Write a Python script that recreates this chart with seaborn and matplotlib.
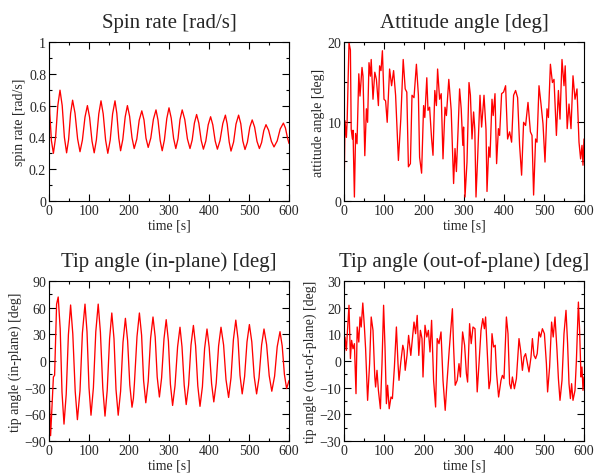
import numpy as np
import pandas as pd
import matplotlib
matplotlib.use("Agg")
import matplotlib.pyplot as plt
from matplotlib.ticker import MultipleLocator
import seaborn as sns

# ---------------- data ----------------
# spin rate [rad/s]
spin_t = [0, 2, 6, 11, 16.5, 22, 27.5, 33, 38.5, 44, 49, 54, 59, 65, 71.5,
          77.5, 83.5, 90, 96, 101.5, 107.5, 113, 118.5, 124.5, 130, 135.5,
          141.5, 147, 153, 159, 165, 169.5, 174.5, 179, 184.5, 190.5, 196,
          201.5, 207.5, 213, 219.5, 225.5, 232, 237.5, 242.5, 248, 254.5, 261,
          267.5, 272.5, 278, 283, 288.5, 294.5, 300, 305.5, 311.5, 317, 322.5,
          327.5, 333, 339.5, 346, 352.5, 358, 363.5, 369, 374.5, 380.5, 386,
          392, 398, 404, 409.5, 415.5, 421, 427.5, 434.5, 441, 445.5, 450.5,
          455, 461.5, 467.5, 474, 479.5, 484.5, 490, 496, 502, 508, 514, 520,
          526, 531.5, 537, 542.5, 549, 556, 562.5, 570.5, 578, 586, 591, 596,
          600]
spin_v = [0.80, 0.55, 0.38, 0.30, 0.40, 0.60, 0.697, 0.60, 0.40, 0.303,
          0.386, 0.551, 0.634, 0.553, 0.391, 0.31, 0.383, 0.528, 0.60, 0.526,
          0.377, 0.303, 0.385, 0.548, 0.63, 0.548, 0.383, 0.30, 0.383, 0.548,
          0.63, 0.552, 0.395, 0.316, 0.387, 0.529, 0.60, 0.533, 0.398, 0.33,
          0.389, 0.508, 0.567, 0.51, 0.395, 0.337, 0.396, 0.514, 0.573, 0.509,
          0.38, 0.316, 0.384, 0.519, 0.586, 0.522, 0.394, 0.33, 0.391, 0.512,
          0.573, 0.512, 0.391, 0.33, 0.384, 0.49, 0.544, 0.49, 0.381, 0.326,
          0.377, 0.479, 0.53, 0.479, 0.377, 0.326, 0.38, 0.487, 0.54, 0.484,
          0.371, 0.314, 0.371, 0.484, 0.54, 0.486, 0.378, 0.324, 0.37, 0.464,
          0.51, 0.465, 0.375, 0.33, 0.368, 0.443, 0.48, 0.445, 0.375, 0.34,
          0.378, 0.453, 0.49, 0.46, 0.40, 0.362]

# attitude angle [deg]
att_t = [0, 2.5, 6, 8, 12.5, 16, 18, 21, 22.5, 26, 29, 32.5, 37, 40, 45, 47.5,
         52, 56, 59, 62.5, 66, 68, 72.5, 77, 81, 86, 89, 92.5, 96, 100, 104,
         108, 114, 119, 124, 129, 136, 142, 148, 153, 157, 161, 166, 170, 175,
         181, 186, 189, 194, 199, 202, 207, 210, 214, 219, 222.5, 227, 231,
         234, 239, 243, 247.5, 252.5, 256, 262, 268, 274, 277.5, 281, 285,
         289, 293, 297, 299, 302.5, 307.5, 312.5, 316, 320, 324, 327, 330,
         334, 340, 344, 350, 355, 357.5, 362, 365, 370, 373, 377.5, 381.5,
         386, 389, 394, 399, 404, 409, 414, 419, 424, 429, 434, 439, 444,
         449, 454, 460, 466, 470, 474, 479, 482.5, 487.5, 492.5, 497.5, 502.5,
         507.5, 511, 516, 521, 525, 531, 536, 540, 545, 550, 553, 558, 562.5,
         567.5, 572.5, 577.5, 582.5, 587.5, 591.5, 595, 597.5, 600]
att_v = [0, 10.1, 8, 10.3, 19.9, 19, 9, 7.8, 8.9, 0.5, 8.5, 7.2, 16, 13.2, 16.8,
         15.7, 5.7, 11.6, 9.9, 17.4, 15.7, 17.8, 12.8, 16.2, 15.3, 12, 17,
         16.4, 18.9, 12.8, 12.6, 9.9, 16.6, 14.5, 16.4, 13.3, 5.1, 10.3, 17.8,
         14.1, 13.7, 4.3, 4.7, 13.3, 13, 17.2, 13.3, 5.5, 3.5, 12, 10.5, 15.5,
         11.4, 11.8, 7.8, 5.75, 13.9, 12, 16.6, 12.8, 13.5, 5.3, 11.8, 10.75,
         15.3, 11.4, 2.2, 6.6, 3.7, 8.7, 14.1, 11.6, 7, 9.3, 0.5, 4.9, 14.9,
         13.3, 7.8, 11.2, 9, 0.5, 5.3, 13.3, 9.3, 13.3, 9, 1.2, 6.8, 5.5, 12.8,
         10.75, 13.5, 4.7, 9.1, 8.25, 13.5, 13.7, 14.5, 7.8, 8.7, 7.4, 13.3,
         13.9, 13, 7, 3.25, 9.9, 9.5, 12.4, 8.7, 8.25, 0.75, 7.8, 7.4, 14.5,
         12.2, 9.7, 4.9, 11.6, 10.5, 17.2, 14.9, 15.3, 8.25, 13.9, 10.3, 17.8,
         14.5, 17, 9.1, 12.2, 9.1, 15.75, 12.8, 14.1, 7.4, 5.3, 7, 4.5, 7.8]

# tip angle, in-plane [deg]
inp_t = [0, 4, 11, 14, 19, 23, 28, 32.5, 37.5, 43, 48.5, 54, 59.5, 65.5, 71,
         77.5, 83.5, 90, 95, 100, 105, 111, 117, 123, 128.5, 134.5, 140,
         145.5, 151.5, 157, 162.5, 167.5, 173, 179, 185, 191, 196.5, 202,
         207.5, 211, 213.5, 220, 226, 231.5, 236.5, 242, 248, 254, 260, 265.5,
         270.5, 276, 281.5, 287.5, 293, 298.5, 303.5, 309, 315, 321.5, 327.5,
         332.5, 338, 343, 349, 355, 361, 366.5, 372, 377.5, 383.5, 389, 395,
         400.5, 406.5, 412, 418, 424, 430, 436.5, 442.5, 449, 455, 461, 467,
         472.5, 477.5, 483, 489, 495, 501, 507, 513, 519, 525, 531.5, 537.5,
         544, 550.5, 557, 564, 570.5, 577.5, 583, 588.5, 594, 600]
inp_v = [-25, -84, -18, -16, 64, 72, 36, -35, -71, -37.5, 29.5, 63, 30.5, -34,
         -66, -33.5, 31.5, 64, 33, -30, -61, -30, 33, 64, 32.5, -30.5, -62,
         -33, 25, 54, 25, -32, -61, -34, 21, 48, 23, -27, -52, -42, -25.5,
         27.5, 54, 29, -22, -47, -23, 25.5, 49.5, 27, -18, -40.5, -19, 25,
         46.5, 22.5, -26, -50, -28, 16, 38, 16, -27, -49, -27, 18, 40, 17,
         -28, -51, -29, 14, 36, 15.5, -25.5, -46, -25, 17, 38, 18, -21, -41,
         -19, 24, 46, 25, -16, -37, -17.5, 21.5, 41, 21.5, -17.5, -37, -19,
         18, 36, 18.5, -16.5, -34, -17, 16, 33, 17, -15, -31, -22]

# tip angle, out-of-plane [deg]
oop_t = [0, 2.5, 6, 8, 12.5, 16, 19, 22.5, 26, 30, 33, 37, 40, 43, 47, 51, 54,
         59, 64, 68, 72.5, 77, 79, 82.5, 86, 91, 95, 99, 102.5, 106, 109, 113,
         117.5, 121, 126, 131, 135, 137.5, 142, 147, 150, 153, 157.5, 161.5,
         167, 171, 175, 179, 183, 187, 191, 195, 197.5, 202.5, 207, 211, 215,
         219, 224, 229, 233, 237.5, 242.5, 247.5, 253, 257.5, 263, 271, 274,
         278, 283, 287.5, 291, 296.5, 301.5, 306, 309, 314, 318, 322.5, 327.5,
         333, 337.5, 342.5, 347, 351, 354, 358, 362.5, 366, 370, 374, 378,
         381.5, 386.5, 392.5, 396, 400, 406, 410, 414, 417.5, 421, 426, 431,
         437.5, 441.5, 446, 450, 454, 458, 462.5, 467.5, 471, 475, 479, 483,
         487.5, 491.5, 496, 501, 506, 509, 514, 519, 523, 527.5, 532.5, 536,
         540, 545, 550, 555, 559, 562.5, 566, 569, 572.5, 577.5, 581, 586, 589,
         592.5, 595, 597.5, 600]
oop_v = [-1, 9, 4, 9.6, 20.9, 0.9, 7.75, 4.6, 6.5, -12.25, 12.75, 7.1, 16.5,
         12.75, 21.75, 12.75, 4.6, -14.75, -1, 16.5, 11.5, -6, -9.75, -3.5, -11,
         -17.9, -1, 20.9, 5.25, -16, -9.1, -17.9, -13.5, -14.1, -2.25, 12.75,
         -1, -7.25, -0.4, 5.9, 4, -3.5, 2.1, 9.6, 2.1, 8.4, 14.6, 10.25, 17.1,
         2.1, 11.5, 8.4, -6, 13.4, 9, 11.5, 3.4, 15.25, -7.25, -17.25, 8.4, 6.5,
         10.9, -7.25, -18.5, -7.9, 4, 19.6, 5.25, -9.1, -7.25, -1, -6, 10.9,
         5.9, -4.75, -7.9, 14, 6.5, 12.75, 12.1, -11.6, -1, 11.5, 15.9, 12.1,
         16.5, 4, -10.4, -7.25, 10.25, 5.25, 5.9, -4.75, -13.5, -7.25, -5.4,
         -6.6, 16.5, 10.25, -8.5, -10.4, -6, -10.4, -6.6, 8.4, 4, -3.5, 1.5,
         2.75, -0.4, -4.1, 1.5, 8.4, 2.1, 0.9, 2.75, 10.9, 9, 12.1, 10.25, -1,
         -11.6, -2.25, 14.6, 9, 16.5, 4, -6.6, -14.75, -7.25, 10.25, 19, 6.5,
         -8.5, -14.1, -8.5, -14.75, -11, 0.25, 22.1, 11.5, -6, -2.25, -11, -6]

titles = ["Spin rate [rad/s]", "Attitude angle [deg]",
          "Tip angle (in-plane) [deg]", "Tip angle (out-of-plane) [deg]"]
ylabels = ["spin rate [rad/s]", "attitude angle [deg]",
           "tip angle (in-plane) [deg]", "tip angle (out-of-plane) [deg]"]

# --------------------- plotting ---------------------
sns.set_style("ticks")
plt.rcParams['font.family'] = ['Liberation Serif', 'DejaVu Serif']

fig = plt.figure(figsize=(5.96, 4.77), dpi=100)
W, H = 596.0, 477.0
# axes boxes in pixels (left, top, right, bottom)
boxes = [(49, 43, 289, 202), (344, 43, 584, 202),
         (49, 282, 289, 442), (344, 282, 584, 442)]
series = [(spin_t, spin_v), (att_t, att_v), (inp_t, inp_v), (oop_t, oop_v)]
ylims = [(0, 1), (0, 20), (-90, 90), (-30, 30)]
ymajor = [0.2, 10, 30, 10]
yminor = [0.1, 5, 15, 5]

for i in range(4):
    x0, y0, x1, y1 = boxes[i]
    ax = fig.add_axes([x0 / W, (H - y1) / H, (x1 - x0) / W, (y1 - y0) / H])
    df = pd.DataFrame({"t": series[i][0], "v": series[i][1]})
    sns.lineplot(data=df, x="t", y="v", ax=ax, color="red", linewidth=0.95)
    ax.set_xlim(0, 600)
    ax.set_ylim(*ylims[i])
    ax.xaxis.set_major_locator(MultipleLocator(100))
    ax.xaxis.set_minor_locator(MultipleLocator(50))
    ax.yaxis.set_major_locator(MultipleLocator(ymajor[i]))
    ax.yaxis.set_minor_locator(MultipleLocator(yminor[i]))
    if i == 0:
        ax.set_yticks([0, 0.2, 0.4, 0.6, 0.8, 1])
        ax.set_yticklabels(["0", "0.2", "0.4", "0.6", "0.8", "1"])
    ax.tick_params(which="both", direction="in", top=True, right=True,
                   labelsize=10, pad=2, width=0.8, color="black")
    ax.tick_params(which="major", length=5)
    ax.tick_params(which="minor", length=2.5)
    for s in ax.spines.values():
        s.set_linewidth(0.8)
        s.set_color("black")
    ax.set_xlabel("time [s]", fontsize=10, labelpad=1)
    ax.set_ylabel(ylabels[i], fontsize=10, labelpad=2)
    ax.set_title(titles[i], fontsize=15, pad=11)

fig.savefig("out.png", dpi=100)
